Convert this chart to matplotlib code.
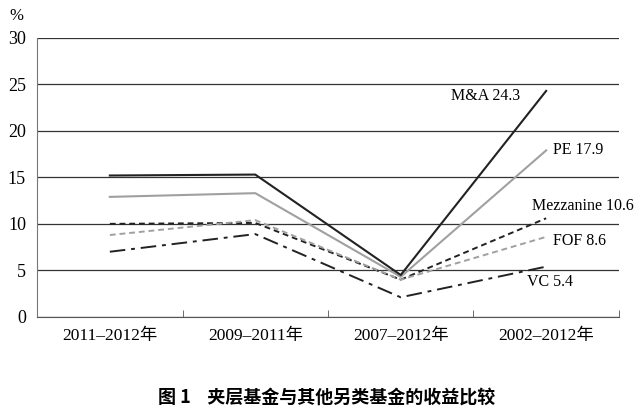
import matplotlib.pyplot as plt
from matplotlib.ticker import FixedLocator

plt.rcParams['font.family'] = ['Liberation Serif', 'Noto Sans CJK SC']

# Periods and fund returns (%)
periods = ['2011\u20132012年', '2009\u20132011年', '2007\u20132012年', '2002\u20132012年']
ma = [15.2, 15.3, 4.5, 24.3]
pe = [12.9, 13.3, 4.3, 17.9]
mezzanine = [10.0, 10.1, 4.0, 10.6]
fof = [8.8, 10.4, 4.0, 8.6]
vc = [7.0, 8.9, 2.1, 5.4]
labels = ['M&A 24.3', 'PE 17.9', 'Mezzanine 10.6', 'FOF 8.6', 'VC 5.4']

fig = plt.figure(figsize=(6.4, 4.12), dpi=100)
ax = fig.add_axes([0.058, 0.231, 0.909, 0.677])

x = list(range(len(periods)))
ax.plot(x, ma, color='#222222', lw=1.5, zorder=5)
ax.plot(x, pe, color='#a0a0a0', lw=1.5, zorder=4)
ax.plot(x, mezzanine, color='#222222', lw=1.4, ls=(0, (3, 2)), zorder=4)
ax.plot(x, fof, color='#a0a0a0', lw=1.4, ls=(0, (3, 2)), zorder=4)
ax.plot(x, vc, color='#222222', lw=1.4, ls=(0, (8, 3, 2, 3)), zorder=4)

# End labels
ax.text(2.82, 23.8, labels[0], ha='right', va='center', fontsize=11.5)
ax.text(3.05, 17.9, labels[1], ha='left', va='center', fontsize=11.5)
ax.text(2.9, 11.9, labels[2], ha='left', va='center', fontsize=11.5)
ax.text(3.05, 8.2, labels[3], ha='left', va='center', fontsize=11.5)
ax.text(2.87, 3.7, labels[4], ha='left', va='center', fontsize=11.5)

ax.set_xlim(-0.5, 3.5)
ax.set_ylim(0, 30)
ax.set_yticks(range(0, 31, 5))
ax.yaxis.grid(True, color='#333333', lw=0.9)
ax.set_axisbelow(True)
ax.tick_params(axis='y', length=0, labelsize=13, pad=8)

ax.set_xticks(x)
ax.set_xticklabels(periods, fontsize=12.5)
ax.xaxis.set_minor_locator(FixedLocator([-0.5, 0.5, 1.5, 2.5, 3.5]))
ax.tick_params(axis='x', which='major', length=0, pad=8)
ax.tick_params(axis='x', which='minor', direction='in', length=5, color='#555555')

for side in ['top', 'right']:
    ax.spines[side].set_visible(False)
ax.spines['left'].set_color('#777777')
ax.spines['bottom'].set_color('#555555')

fig.text(0.025, 0.962, '%', fontsize=12, ha='center', va='center')
fig.text(0.51, 0.037, '图 1    夹层基金与其他另类基金的收益比较', fontsize=13,
         ha='center', va='center', fontweight='bold',
         family=['Noto Sans CJK SC', 'Liberation Serif'])

fig.savefig('out.png', dpi=100)
